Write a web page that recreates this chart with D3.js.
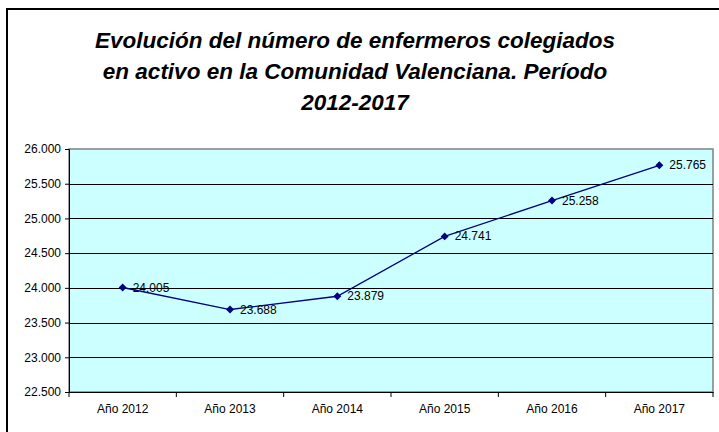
<!DOCTYPE html>
<html>
<head>
<meta charset="utf-8">
<script src="https://cdn.jsdelivr.net/npm/d3@7"></script>
<style>
  body { margin: 0; background: #fff; }
  text { font-family: "Liberation Sans", Arial, sans-serif; }
</style>
</head>
<body>
<svg id="chart" width="719" height="432"></svg>
<script>
// Data
var years = ["Año 2012", "Año 2013", "Año 2014", "Año 2015", "Año 2016", "Año 2017"];
var nurses = [24005, 23688, 23879, 24741, 25258, 25765];
var yTicks = [22500, 23000, 23500, 24000, 24500, 25000, 25500, 26000];
var titleLines = ["Evolución del número de enfermeros colegiados",
                  "en activo en la Comunidad Valenciana. Período",
                  "2012-2017"];

var svg = d3.select("#chart");

// Dimensions
var plotLeft = 69, plotRight = 713, plotTop = 149, plotBottom = 392;

var fmt = function(v) {
    return d3.format(",")(v).replace(/,/g, ".");
};

// outer frame (right/bottom edges fall outside the window)
svg.append("rect")
    .attr("x", 7)
    .attr("y", 9)
    .attr("width", 740)
    .attr("height", 460)
    .attr("fill", "none")
    .attr("stroke", "#000")
    .attr("stroke-width", 2);

// title
svg.append("g")
    .selectAll("text")
    .data(titleLines)
    .enter().append("text")
    .attr("x", 355)
    .attr("y", function(d, i) { return 48 + i * 31; })
    .attr("text-anchor", "middle")
    .attr("font-size", "22.5px")
    .attr("font-weight", "bold")
    .attr("font-style", "italic")
    .text(function(d) { return d; });

//Axis
var x = d3.scaleBand()
    .domain(years)
    .range([plotLeft, plotRight]);

var y = d3.scaleLinear()
    .domain([22500, 26000])
    .range([plotBottom, plotTop]);

// plot background
svg.append("rect")
    .attr("x", plotLeft)
    .attr("y", plotTop)
    .attr("width", plotRight - plotLeft)
    .attr("height", plotBottom - plotTop)
    .attr("fill", "#ccffff")
    .attr("stroke", "#808080")
    .attr("stroke-width", 1.5);

// gridlines
svg.append("g")
    .selectAll("line")
    .data(yTicks.slice(1, -1))
    .enter().append("line")
    .attr("x1", plotLeft)
    .attr("x2", plotRight)
    .attr("y1", function(d) { return Math.round(y(d)) + 0.5; })
    .attr("y2", function(d) { return Math.round(y(d)) + 0.5; })
    .attr("stroke", "#000")
    .attr("stroke-width", 1);

// y axis
var yAxis = svg.append("g")
    .attr("transform", "translate(" + plotLeft + ",0)")
    .call(d3.axisLeft(y).tickValues(yTicks).tickFormat(fmt).tickSize(4).tickPadding(4));
yAxis.select(".domain").attr("stroke", "#000");
yAxis.selectAll("text").attr("font-size", "12px").attr("font-family", "Liberation Sans, Arial, sans-serif").attr("fill", "#000");

// x axis
var xAxis = svg.append("g")
    .attr("transform", "translate(0," + plotBottom + ")")
    .call(d3.axisBottom(x).tickSize(0).tickPadding(12));
xAxis.select(".domain").attr("stroke", "#000");
xAxis.selectAll("text").attr("font-size", "12px").attr("font-family", "Liberation Sans, Arial, sans-serif").attr("fill", "#000");

// category separator ticks
svg.append("g")
    .selectAll("line")
    .data(d3.range(years.length + 1))
    .enter().append("line")
    .attr("x1", function(i) { return plotLeft + i * x.bandwidth(); })
    .attr("x2", function(i) { return plotLeft + i * x.bandwidth(); })
    .attr("y1", plotBottom)
    .attr("y2", plotBottom + 5)
    .attr("stroke", "#000");

var cx = function(d, i) { return x(years[i]) + x.bandwidth() / 2; };

// line
svg.append("path")
    .datum(nurses)
    .attr("fill", "none")
    .attr("stroke", "#000080")
    .attr("stroke-width", 1.3)
    .attr("d", d3.line()
        .x(cx)
        .y(function(d) { return y(d); }));

// markers
svg.append("g")
    .selectAll("path")
    .data(nurses)
    .enter().append("path")
    .attr("d", d3.symbol().type(d3.symbolDiamond2).size(40))
    .attr("transform", function(d, i) {
        return "translate(" + cx(d, i) + "," + y(d) + ")";
    })
    .attr("fill", "#000080");

// value labels
svg.append("g")
    .selectAll("text")
    .data(nurses)
    .enter().append("text")
    .attr("x", function(d, i) { return cx(d, i) + 10; })
    .attr("y", function(d) { return y(d) + 4; })
    .attr("font-size", "12px")
    .attr("fill", "#000")
    .text(fmt);
</script>
</body>
</html>
